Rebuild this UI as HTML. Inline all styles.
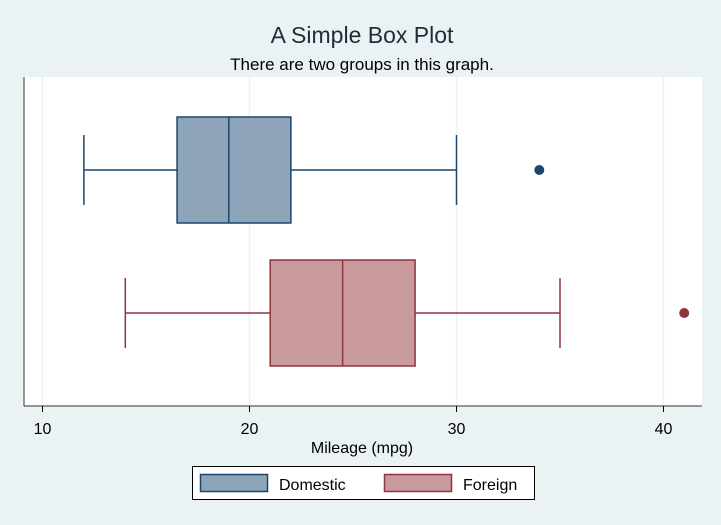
<!DOCTYPE html>
<html><head><meta charset="utf-8"><style>
html,body{margin:0;padding:0;background:#eaf2f3;}
svg{display:block;font-family:"Liberation Sans",Arial,sans-serif;}
</style></head><body>
<svg id="chart" width="721" height="525">
<rect x="0" y="0" width="721" height="525" fill="#eaf2f3"/>
<text x="362" y="43" text-anchor="middle" font-size="23" fill="#1e2d3c">A Simple Box Plot</text>
<text x="362" y="70" text-anchor="middle" font-size="17" fill="#000">There are two groups in this graph.</text>
<rect x="24" y="77" width="678" height="329" fill="#fff"/>
<g id="grid"></g>
<g id="boxes"></g>
<line x1="24" y1="77" x2="24" y2="406" stroke="#333" stroke-width="1"/>
<line x1="24" y1="406" x2="702" y2="406" stroke="#333" stroke-width="1"/>
<g id="ticks"></g>
<text x="362" y="453" text-anchor="middle" font-size="16" fill="#000">Mileage (mpg)</text>
<g>
<rect x="192.5" y="466.5" width="342" height="33" fill="#fff" stroke="#000" stroke-width="1"/>
<rect x="200.5" y="474.5" width="67" height="17" fill="#8ea5b9" stroke="#1a476f" stroke-width="1.5"/>
<text x="279" y="490" font-size="16" fill="#000">Domestic</text>
<rect x="384.5" y="474.5" width="67" height="17" fill="#c89a9e" stroke="#90353b" stroke-width="1.5"/>
<text x="463" y="490" font-size="16" fill="#000">Foreign</text>
</g>
</svg>
<script>
const groups = ["Domestic", "Foreign"];
const mins = [12, 14];
const q1s = [16.5, 21];
const medians = [19, 24.5];
const q3s = [22, 28];
const maxs = [30, 35];
const outliers = [34, 41];
const xTicks = [10, 20, 30, 40];

const NS = "http://www.w3.org/2000/svg";
const x = v => 42.5 + (v - 10) * 20.7;
const centers = [170, 313];
const halfH = 53, capH = 35;
const fills = ["#8ea5b9", "#c89a9e"], strokes = ["#1a476f", "#90353b"];
function mk(tag, attrs, parent) {
  const e = document.createElementNS(NS, tag);
  for (const k in attrs) e.setAttribute(k, attrs[k]);
  parent.appendChild(e);
  return e;
}
const grid = document.getElementById("grid"), ticks = document.getElementById("ticks"), boxes = document.getElementById("boxes");
xTicks.forEach(t => {
  const g = mk("line", {x1: x(t), x2: x(t), y1: 77, y2: 406, stroke: "#eaf2f3", "stroke-width": 1.5}, grid);
  
  
  const tk = mk("line", {x1: x(t), x2: x(t), y1: 406, y2: 412, stroke: "#000"}, ticks);
  
  
  const tl = mk("text", {x: x(t), y: 434, "text-anchor": "middle", "font-size": 16, fill: "#000"}, ticks);
  tl.textContent = t;
  
  
});
groups.forEach((g, i) => {
  const c = centers[i], s = strokes[i];
  const grp = mk("g", {}, boxes);
  
  
  mk("line", {x1: x(mins[i]), x2: x(q1s[i]), y1: c, y2: c, stroke: s, "stroke-width": 1.5}, grp);
  mk("line", {x1: x(q3s[i]), x2: x(maxs[i]), y1: c, y2: c, stroke: s, "stroke-width": 1.5}, grp);
  mk("line", {x1: x(mins[i]), x2: x(mins[i]), y1: c - capH, y2: c + capH, stroke: s, "stroke-width": 1.5}, grp);
  mk("line", {x1: x(maxs[i]), x2: x(maxs[i]), y1: c - capH, y2: c + capH, stroke: s, "stroke-width": 1.5}, grp);
  mk("rect", {x: x(q1s[i]), y: c - halfH, width: x(q3s[i]) - x(q1s[i]), height: 2 * halfH, fill: fills[i], stroke: s, "stroke-width": 1.5}, grp);
  mk("line", {x1: x(medians[i]), x2: x(medians[i]), y1: c - halfH, y2: c + halfH, stroke: s, "stroke-width": 1.5}, grp);
  const o = mk("circle", {cx: x(outliers[i]), cy: c, r: 5, fill: s}, grp);
  
  
});
</script>
</body></html>
